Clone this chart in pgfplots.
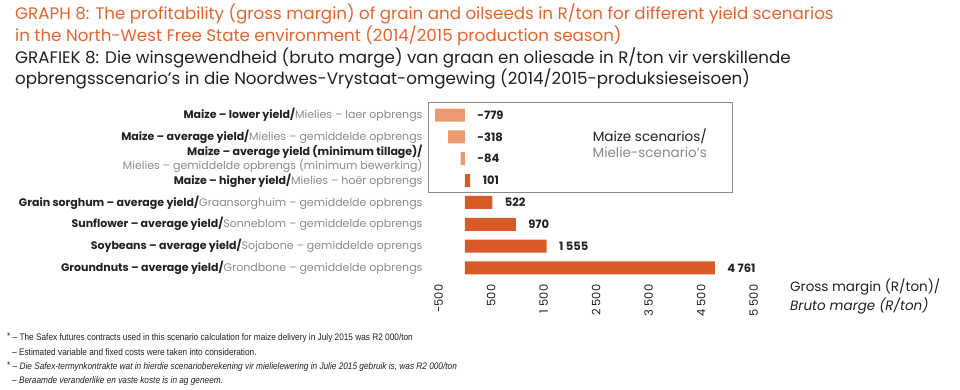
\documentclass[border=0pt]{standalone}
\usepackage{fontspec}
\setmainfont{Poppins}
\newfontfamily\footfont[FakeStretch=0.87]{Liberation Sans}
\usepackage{pgfplots}
\pgfplotsset{compat=1.18}
\definecolor{titleor}{HTML}{E4642C}
\definecolor{lightbar}{HTML}{EA9A6E}
\definecolor{darkbar}{HTML}{D95A26}
\definecolor{graytxt}{HTML}{8A8A8A}
\definecolor{darktxt}{HTML}{231F20}
\begin{document}
\begin{tikzpicture}[x=1pt,y=1pt]
\path[use as bounding box] (0,0) rectangle (960,390);
% titles
\begin{scope}[every node/.style={anchor=base west, inner sep=0, font=\fontsize{16.7}{18}\selectfont}]
\node[text=titleor] at (15,370) {GRAPH 8: The profitability (gross margin) of grain and oilseeds in R/ton for different yield scenarios};
\node[text=titleor] at (15,348) {in the North-West Free State environment (2014/2015 production season)};
\node[text=darktxt] at (15,326) {GRAFIEK 8: Die winsgewendheid (bruto marge) van graan en oliesade in R/ton vir verskillende};
\node[text=darktxt] at (15,305) {opbrengsscenario’s in die Noordwes-Vrystaat-omgewing (2014/2015-produksieseisoen)};
\end{scope}
% maize scenarios box
\draw[graytxt, line width=0.8pt] (428,198) rectangle (732,288);
\node[anchor=base east, inner sep=0, text=darktxt, font=\fontsize{13.5}{15}\selectfont] at (707,248) {Maize scenarios/};
\node[anchor=base east, inner sep=0, text=graytxt, font=\fontsize{13.5}{15}\selectfont] at (707,232) {Mielie-scenario's};
\begin{axis}[
  at={(435pt,108.9pt)}, anchor=south west, scale only axis,
  width=323.9pt, height=179.2pt,
  xmin=-570, xmax=5600, ymin=-0.6, ymax=7.6,
  axis line style={draw=none}, tick style={draw=none}, major tick length=0pt,
  xtick={-500,500,1500,2500,3500,4500,5500},
  /pgf/number format/assume math mode=true,
  /pgf/number format/1000 sep={\ },
  xticklabel style={rotate=90, anchor=east, font=\fontsize{11.5}{13}\selectfont, text=darktxt, yshift=0pt},
  ytick={0,1,2,3,4,5,6,7},
  yticklabels={
    {\textbf{Groundnuts – average yield/}\textcolor{graytxt}{Grondbone – gemiddelde opbrengs}},
    {\textbf{Soybeans – average yield/}\textcolor{graytxt}{Sojabone – gemiddelde oprengs}},
    {\textbf{Sunflower – average yield/}\textcolor{graytxt}{Sonneblom – gemiddelde opbrengs}},
    {\textbf{Grain sorghum – average yield/}\textcolor{graytxt}{Graansorghuim – gemiddelde opbrengs}},
    {\textbf{Maize – higher yield/}\textcolor{graytxt}{Mielies – hoër opbrengs}},
    {\textbf{Maize – average yield (minimum tillage)/}\\\textcolor{graytxt}{Mielies – gemiddelde opbrengs (minimum bewerking)}},
    {\textbf{Maize – average yield/}\textcolor{graytxt}{Mielies – gemiddelde opbrengs}},
    {\textbf{Maize – lower yield/}\textcolor{graytxt}{Mielies – laer opbrengs}}},
  yticklabel style={anchor=east, align=right, xshift=-9pt, text=darktxt, font=\fontsize{11}{12}\selectfont},
]
\addplot[xbar, bar width=13pt, bar shift=0pt, fill=lightbar, draw=none]
  coordinates {(-779,7) (-318,6) (-84,5)};
\addplot[xbar, bar width=13pt, bar shift=0pt, fill=darkbar, draw=none,
  nodes near coords, point meta=x,
  nodes near coords style={anchor=west, xshift=9pt, text=darktxt, font=\fontsize{11.5}{13}\selectfont\bfseries}]
  coordinates {(101,4) (522,3) (970,2) (1555,1) (4761,0)};
\addplot[draw=none, mark=none,
  nodes near coords, point meta=explicit symbolic,
  nodes near coords style={anchor=west, xshift=9pt, yshift=0pt, text=darktxt, font=\fontsize{11.5}{13}\selectfont\bfseries}]
  coordinates {(0,7) [-779] (0,6) [-318] (0,5) [-84]};
\end{axis}
% x axis title
\node[anchor=base west, inner sep=0, text=darktxt, font=\fontsize{13.5}{15}\selectfont] at (790,98) {Gross margin (R/ton)/};
\node[anchor=base west, inner sep=0, text=darktxt, font=\fontsize{13.5}{15}\selectfont\itshape] at (790,79) {Bruto marge (R/ton)};
% footnotes
\begin{scope}[every node/.style={anchor=base west, inner sep=0, text=darktxt, font=\footfont\fontsize{9.5}{11}\selectfont}]
\node at (7,49) {\raisebox{1.5pt}{*} – The Safex futures contracts used in this scenario calculation for maize delivery in July 2015 was R2 000/ton};
\node at (12,34) {– Estimated variable and fixed costs were taken into consideration.};
\node at (7,20) {\raisebox{1.5pt}{*} – \itshape Die Safex-termynkontrakte wat in hierdie scenarioberekening vir mielielewering in Julie 2015 gebruik is, was R2 000/ton};
\node at (12,6) {\itshape – Beraamde veranderlike en vaste koste is in ag geneem.};
\end{scope}
\end{tikzpicture}
\end{document}
